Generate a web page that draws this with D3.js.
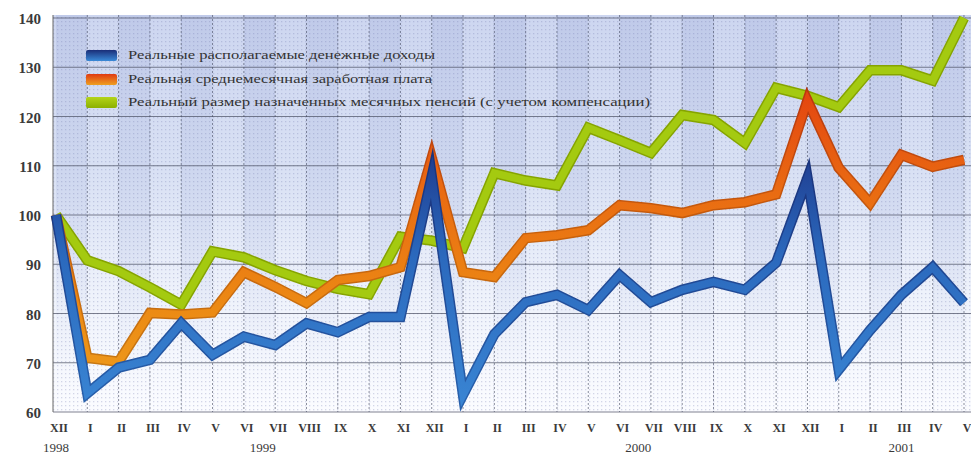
<!DOCTYPE html>
<html><head><meta charset="utf-8">
<script src="https://cdn.jsdelivr.net/npm/d3@7"></script>
<style>html,body{margin:0;padding:0;background:#fff;}svg{display:block;}</style>
</head><body>
<svg id="chart" width="971" height="458"></svg>
<script>
const months = ["XII","I","II","III","IV","V","VI","VII","VIII","IX","X","XI","XII",
                "I","II","III","IV","V","VI","VII","VIII","IX","X","XI","XII",
                "I","II","III","IV","V"];
const years = [{label:"1998", at:0},{label:"1999", at:6.6},{label:"2000", at:18.6},{label:"2001", at:27}];
const yTicks = [60,70,80,90,100,110,120,130,140];
const income = [100,63.8,69,70.6,78,71.6,75.3,73.6,78,76.2,79.3,79.3,107.8,
                63.5,75.8,82.3,83.8,80.7,87.8,82.3,84.8,86.4,84.8,90.3,107.5,
                68.6,76.6,83.8,89.4,82.2];
const wages  = [100,71,70.2,80.1,79.8,80.2,88.4,85.4,82.1,86.8,87.6,89.4,111.6,
                88.4,87.4,95.3,95.9,96.9,102,101.4,100.4,102,102.6,104.2,123.2,
                109.6,102.4,112.2,109.8,111.2];
const pensions=[100,90.8,88.6,85.3,81.8,92.6,91.4,88.8,86.6,85,83.9,95.6,94.8,
                93.3,108.5,107,106,117.7,115.2,112.6,120.3,119.3,114.6,125.8,124.2,
                121.9,129.4,129.4,127.3,140];
const seriesNames = ["Реальные располагаемые денежные доходы",
                     "Реальная среднемесячная заработная плата",
                     "Реальный размер назначенных месячных пенсий (с учетом компенсации)"];

const svg = d3.select("#chart");
const L = 53, R = 971, T = 15, B = 412;
const x = d3.scalePoint().domain(d3.range(months.length)).range([56, 964]);
const xl = d3.scaleLinear().domain([0, months.length-1]).range([56, 964]);
const y = d3.scaleLinear().domain([60, 140]).range([412, 18]);

const defs = svg.append("defs");
const bg = defs.append("linearGradient").attr("id","bg").attr("x1",0).attr("y1",0).attr("x2",0).attr("y2",1);
bg.append("stop").attr("offset","0%").attr("stop-color","#cdd6f0");
bg.append("stop").attr("offset","40%").attr("stop-color","#d9e1f4");
bg.append("stop").attr("offset","70%").attr("stop-color","#eef2fb");
bg.append("stop").attr("offset","100%").attr("stop-color","#fbfcff");
const st = defs.append("linearGradient").attr("id","stripe").attr("x1",0).attr("y1",0).attr("x2",0).attr("y2",1);
st.append("stop").attr("offset","0%").attr("stop-color","#9eacd8").attr("stop-opacity",0.28);
st.append("stop").attr("offset","60%").attr("stop-color","#a8b5de").attr("stop-opacity",0.18);
st.append("stop").attr("offset","85%").attr("stop-color","#c0cbe8").attr("stop-opacity",0.05);
st.append("stop").attr("offset","100%").attr("stop-color","#ffffff").attr("stop-opacity",0);
const dots = defs.append("pattern").attr("id","dots").attr("width",4).attr("height",4).attr("patternUnits","userSpaceOnUse");
dots.append("rect").attr("x",1).attr("y",1).attr("width",1.3).attr("height",1.3).attr("fill","#6a76a8").attr("opacity",0.28);

function vgrad(id, stops){
  const g = defs.append("linearGradient").attr("id",id).attr("gradientUnits","userSpaceOnUse")
    .attr("x1",0).attr("x2",0).attr("y1",y(130)).attr("y2",y(60));
  stops.forEach(s=>g.append("stop").attr("offset",s[0]).attr("stop-color",s[1]));
}
vgrad("gBlue",[["0%","#1a2d78"],["25%","#1f3d90"],["55%","#2b69bd"],["100%","#3a86d4"]]);
vgrad("gBlueD",[["0%","#15276a"],["40%","#1c3a85"],["100%","#2862ae"]]);
vgrad("gOrange",[["0%","#e23c10"],["35%","#e96a12"],["70%","#ec8a14"],["100%","#eea01e"]]);
vgrad("gOrangeD",[["0%","#b83010"],["50%","#c8620c"],["100%","#c88014"]]);

// background
svg.append("rect").attr("x",L).attr("y",T).attr("width",R-L).attr("height",B-T).attr("fill","url(#bg)");
const cols = d3.range(months.length).filter(i=>i%2===0);
svg.append("g").selectAll("rect").data(cols).join("rect")
  .attr("x",i=>x(i)).attr("y",T)
  .attr("width",i=>Math.min(xl(i+1), R)-x(i)).attr("height",B-T)
  .attr("fill","url(#stripe)");
svg.append("rect").attr("x",L).attr("y",T).attr("width",R-L).attr("height",B-T).attr("fill","url(#dots)");

// grid
svg.append("g").selectAll("line").data(yTicks).join("line")
  .attr("x1",L).attr("x2",R).attr("y1",d=>y(d)).attr("y2",d=>y(d))
  .attr("stroke","#4a4f62").attr("stroke-width",1).attr("opacity",0.7);
svg.append("g").selectAll("line").data(d3.range(1,months.length)).join("line")
  .attr("x1",i=>x(i)).attr("x2",i=>x(i)).attr("y1",T).attr("y2",B)
  .attr("stroke","#3e445c").attr("stroke-width",1).attr("stroke-dasharray","2,2").attr("opacity",0.6);
svg.append("line").attr("x1",L).attr("x2",L).attr("y1",T).attr("y2",B).attr("stroke","#666").attr("stroke-width",1);

// axes labels
svg.append("g").selectAll("text").data(yTicks).join("text")
  .attr("x",41).attr("y",d=>y(d)+6).attr("text-anchor","end")
  .attr("font-family","'Liberation Serif', serif").attr("font-size",15).attr("font-weight","bold")
  .attr("fill","#3a3a3a").text(d=>d);
svg.append("g").selectAll("text").data(months.map((m,i)=>({m,i}))).join("text")
  .attr("x",d=>x(d.i)+3).attr("y",432).attr("text-anchor","middle")
  .attr("font-family","'Liberation Serif', serif").attr("font-size",12).attr("font-weight","bold")
  .attr("fill","#3a3a3a").text(d=>d.m);
svg.append("g").selectAll("text").data(years).join("text")
  .attr("x",d=>xl(d.at)).attr("y",452).attr("text-anchor","middle")
  .attr("font-family","'Liberation Serif', serif").attr("font-size",13)
  .attr("fill","#3a3a3a").text(d=>d.label);

// lines
const line = d3.line().x((d,i)=>x(i)).y(d=>y(d)).curve(d3.curveLinear);
function drawSeries(data, dark, light){
  svg.append("path").datum(data).attr("d",line).attr("fill","none")
    .attr("stroke",dark).attr("stroke-width",10.5).attr("stroke-linejoin","miter").attr("stroke-miterlimit",10);
  svg.append("path").datum(data).attr("d",line).attr("fill","none")
    .attr("stroke",light).attr("stroke-width",7.5).attr("stroke-linejoin","miter").attr("stroke-miterlimit",10);
}
drawSeries(pensions, "#86a400", "#a4ca10");
drawSeries(wages, "url(#gOrangeD)", "url(#gOrange)");
drawSeries(income, "url(#gBlueD)", "url(#gBlue)");

// legend
const lg = defs.append("linearGradient").attr("id","lgB").attr("x1",0).attr("y1",0).attr("x2",0).attr("y2",1);
lg.append("stop").attr("offset","0%").attr("stop-color","#1a2d78");
lg.append("stop").attr("offset","100%").attr("stop-color","#3a8ad8");
const lo = defs.append("linearGradient").attr("id","lgO").attr("x1",0).attr("y1",0).attr("x2",0).attr("y2",1);
lo.append("stop").attr("offset","0%").attr("stop-color","#e03a12");
lo.append("stop").attr("offset","100%").attr("stop-color","#eea020");
const lgn = defs.append("linearGradient").attr("id","lgG").attr("x1",0).attr("y1",0).attr("x2",0).attr("y2",1);
lgn.append("stop").attr("offset","0%").attr("stop-color","#b4d41a");
lgn.append("stop").attr("offset","100%").attr("stop-color","#8cb000");
const legendFills = ["url(#lgB)","url(#lgO)","url(#lgG)"];
const legendRows = [55, 79, 102];
const legendLens = [307, 304, 522];
const leg = svg.append("g");
seriesNames.forEach((name,i)=>{
  leg.append("rect").attr("x",86).attr("y",legendRows[i]-5).attr("width",31).attr("height",11)
    .attr("fill",legendFills[i]).attr("rx",2);
  leg.append("text").attr("x",128).attr("y",legendRows[i]+4)
    .attr("font-family","'Liberation Serif', serif").attr("font-size",13)
    .attr("textLength",legendLens[i]).attr("lengthAdjust","spacingAndGlyphs")
    .attr("fill","#333").text(name);
});
</script>
</body></html>
